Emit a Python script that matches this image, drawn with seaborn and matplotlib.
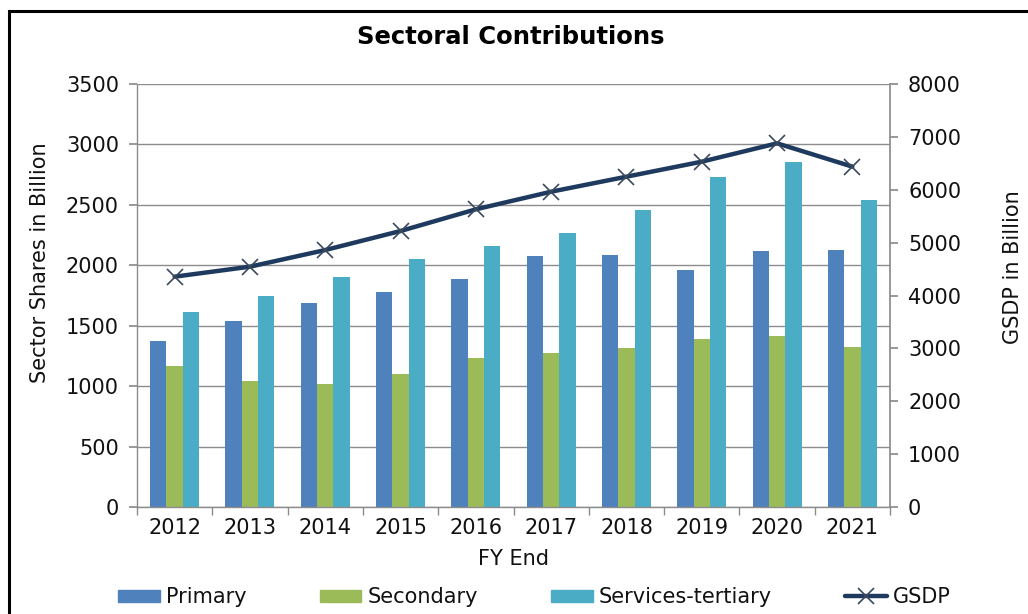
import matplotlib
matplotlib.use("Agg")
import matplotlib.pyplot as plt
import matplotlib.patches as mpatches
from matplotlib.lines import Line2D
import numpy as np
import pandas as pd
import seaborn as sns

# Data
years = ["2012", "2013", "2014", "2015", "2016", "2017", "2018", "2019", "2020", "2021"]
primary = [1370, 1540, 1685, 1778, 1890, 2076, 2085, 1960, 2115, 2126]
secondary = [1170, 1040, 1015, 1098, 1235, 1276, 1315, 1387, 1417, 1323]
tertiary = [1612, 1748, 1900, 2055, 2157, 2270, 2457, 2732, 2856, 2537]
gsdp = [4356, 4545, 4860, 5220, 5630, 5963, 6247, 6531, 6878, 6437]

sectors = ["Primary", "Secondary", "Services-tertiary"]
colors = ["#4F81BD", "#9BBB59", "#4BACC6"]
line_color = "#1F3A5F"
grid_color = "#8C8C8C"
txt = "#111111"
fs = 15

df = pd.DataFrame({"year": years, "Primary": primary, "Secondary": secondary,
                   "Services-tertiary": tertiary})
long = df.melt(id_vars="year", var_name="sector", value_name="value")

sns.set_theme(style="white")
plt.rcParams["font.family"] = ["DejaVu Sans"]
plt.rcParams["text.color"] = txt
plt.rcParams["axes.labelcolor"] = txt

fig = plt.figure(figsize=(10.28, 6.14), dpi=100)
ax = fig.add_axes([137 / 1028, 1 - 507 / 614, (890 - 137) / 1028, (507 - 84) / 614])

sns.barplot(data=long, x="year", y="value", hue="sector", hue_order=sectors,
            palette=colors, width=0.65, saturation=1, linewidth=0, ax=ax, legend=False)

ax.set_ylim(0, 3500)
ax.set_yticks(np.arange(0, 3501, 500))
ax.set_xlim(-0.5, len(years) - 0.5)
ax.yaxis.grid(True, color=grid_color, linewidth=1)
ax.set_axisbelow(True)
for s in ["top", "right"]:
    ax.spines[s].set_visible(False)
for s in ["left", "bottom"]:
    ax.spines[s].set_color(grid_color)
    ax.spines[s].set_linewidth(1)

ax.tick_params(axis="y", which="major", direction="out", length=6, color=grid_color,
               labelcolor=txt, labelsize=fs, pad=7, left=True)
ax.tick_params(axis="x", which="major", length=0, labelsize=fs, labelcolor=txt, pad=8)
ax.set_xticks(np.arange(-0.5, len(years)), minor=True)
ax.tick_params(axis="x", which="minor", direction="out", length=6, color=grid_color, bottom=True)

ax.set_xlabel("FY End", fontsize=fs, labelpad=8)
ax.set_ylabel("Sector Shares in Billion", fontsize=fs)
ax.yaxis.set_label_coords(-0.115, 0.577)

ax2 = ax.twinx()
sns.lineplot(x=np.arange(len(years)), y=gsdp, ax=ax2, color=line_color, linewidth=3.2,
             marker="x", markersize=12, markeredgewidth=1.2, markeredgecolor="#3A4A5C")
ax2.set_ylim(0, 8000)
ax2.set_yticks(np.arange(0, 8001, 1000))
ax2.set_xlim(-0.5, len(years) - 0.5)
for s in ["top", "left", "bottom"]:
    ax2.spines[s].set_visible(False)
ax2.spines["right"].set_color(grid_color)
ax2.tick_params(axis="y", direction="out", length=6, color=grid_color, labelsize=fs,
                labelcolor=txt, pad=7, right=True)
ax2.set_ylabel("GSDP in Billion", fontsize=fs)
ax2.yaxis.set_label_coords(1.150, 0.567)

fig.suptitle("Sectoral Contributions", x=0.497, y=1 - 37 / 614, va="center",
             fontsize=17.5, fontweight="bold", color="black")

handles = [mpatches.Patch(color=c, label=l) for c, l in zip(colors, sectors)]
handles.append(Line2D([0], [0], color=line_color, linewidth=3.2, marker="x", markersize=12,
                      markeredgewidth=1.2, markeredgecolor="#3A4A5C", label="GSDP"))
fig.legend(handles=handles, loc="center", bbox_to_anchor=(0.52, 1 - 597 / 614), ncol=4,
           frameon=False, fontsize=fs, handlelength=2.0, handleheight=0.5,
           columnspacing=3.5, handletextpad=0.3)

# chart border
fig.patches.append(mpatches.Rectangle((9 / 1028, -0.1), 1.2, 1 - 11 / 614 + 0.1,
                                      transform=fig.transFigure, fill=False,
                                      edgecolor="black", linewidth=2.2))

fig.savefig("out.png", dpi=100, facecolor="white")
